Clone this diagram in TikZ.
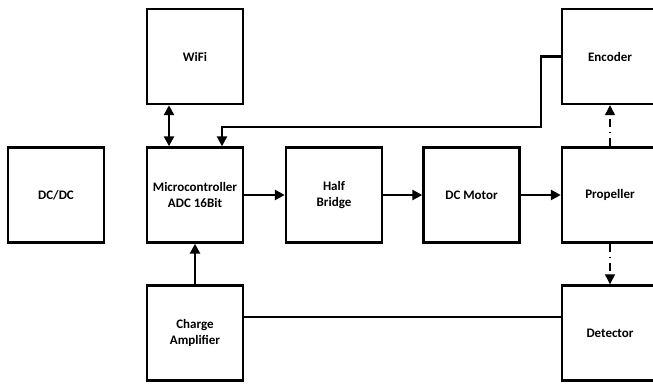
\documentclass[tikz,border=0pt]{standalone}
\usepackage{fontspec}
\setmainfont{Carlito}
\usetikzlibrary{arrows.meta}
\begin{document}
\begin{tikzpicture}[x=1pt,y=-1pt,
  blk/.style={draw,line width=2.4pt,minimum width=96pt,minimum height=95pt,inner sep=0pt,align=center,font=\bfseries\fontsize{13}{15.5}\selectfont},
  conn/.style={line width=2.4pt},
  arr/.style={conn,-{Triangle[length=10pt,width=10pt]}},
  darr/.style={conn,{Triangle[length=10pt,width=10pt]}-{Triangle[length=10pt,width=10pt]}},
  dd/.style={line width=1.2pt,dash pattern=on 8pt off 5pt on 1.2pt off 5pt,-{Triangle[length=10pt,width=10pt]}}]
\clip (0,0) rectangle (653,383);
\fill[white] (0,0) rectangle (653,383);
\node[blk] (dcdc) at (56,195) {DC/DC};
\node[blk] (micro) at (195,195) {Microcontroller\\ADC 16Bit};
\node[blk] (wifi) at (195,56.5) {WiFi};
\node[blk] (charge) at (195,333) {Charge\\Amplifier};
\node[blk] (half) at (334,195) {Half\\Bridge};
\node[blk] (motor) at (471.5,195) {DC Motor};
\node[blk] (prop) at (610,195) {Propeller};
\node[blk] (enc) at (610,56.5) {Encoder};
\node[blk] (det) at (610,333) {Detector};
\coordinate (bend1) at (541,56.5);
\coordinate (bend2) at (541,127);
\draw[darr] ([xshift=-26pt]wifi.south) -- ([xshift=-26pt]micro.north);
\draw[arr] (enc.west) -- (bend1) -- (bend2) -| ([xshift=27pt]micro.north);
\draw[arr] (micro) -- (half);
\draw[arr] (half) -- (motor);
\draw[arr] (motor) -- (prop);
\draw[arr] (charge) -- (micro);
\draw[conn] ([yshift=16pt]charge.east) -- ([yshift=16pt]det.west);
\draw[dd] (prop.north) -- (enc.south);
\draw[dd] (prop.south) -- (det.north);
\end{tikzpicture}
\end{document}
